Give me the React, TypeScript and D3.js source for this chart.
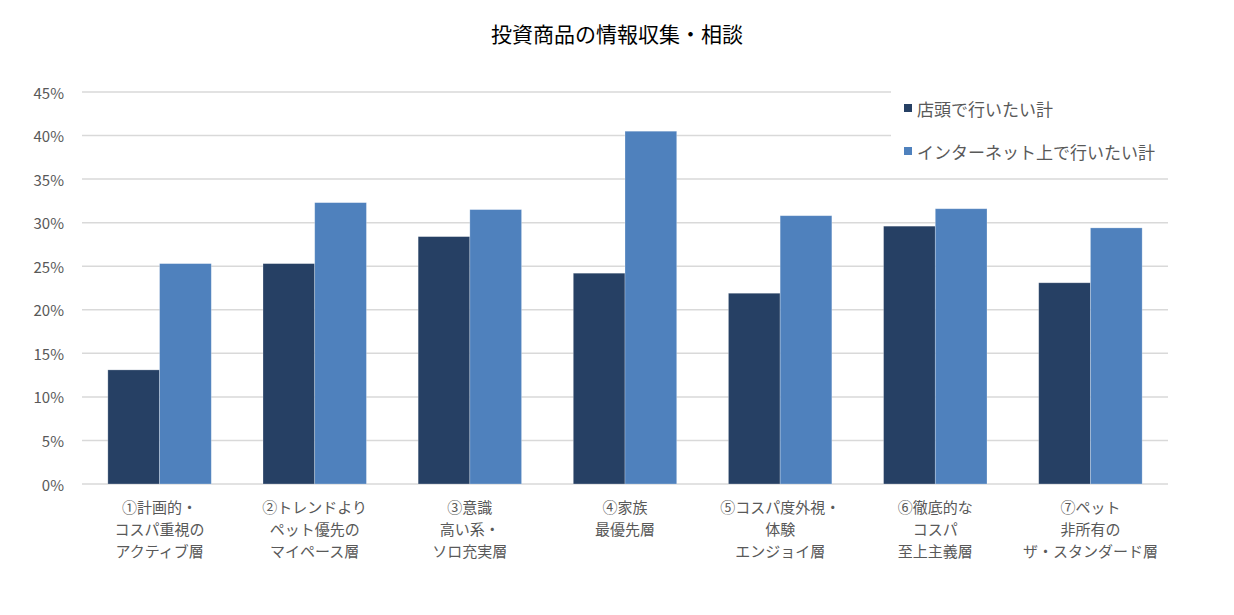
import * as d3 from "d3";

const categories = [
  ["①計画的・", "コスパ重視の", "アクティブ層"],
  ["②トレンドより", "ペット優先の", "マイペース層"],
  ["③意識", "高い系・", "ソロ充実層"],
  ["④家族", "最優先層"],
  ["⑤コスパ度外視・", "体験", "エンジョイ層"],
  ["⑥徹底的な", "コスパ", "至上主義層"],
  ["⑦ペット", "非所有の", "ザ・スタンダード層"],
];
const seriesNames = ["店頭で行いたい計", "インターネット上で行いたい計"];
const storeValues = [13.1, 25.3, 28.4, 24.2, 21.9, 29.6, 23.1];
const onlineValues = [25.3, 32.3, 31.5, 40.5, 30.8, 31.6, 29.4];
const yTicks = [0, 5, 10, 15, 20, 25, 30, 35, 40, 45];
const colors = ["#264064", "#4F81BD"];

const font = "'Noto Sans CJK JP', 'Noto Sans', sans-serif";

export default function App() {
  const width = 1234;
  const height = 615;
  const margin = { top: 92, right: 66, bottom: 131, left: 82 };
  const plotW = width - margin.left - margin.right;
  const plotH = height - margin.top - margin.bottom;

  const x = d3
    .scaleBand<number>()
    .domain(d3.range(categories.length))
    .range([0, plotW])
    .paddingInner(1 / 3)
    .paddingOuter(1 / 6);
  const y = d3.scaleLinear().domain([0, 45]).range([plotH, 0]);
  const bw = x.bandwidth() / 2;

  const series = [storeValues, onlineValues];

  return (
    <svg
      width={width}
      height={height}
      style={{ position: "absolute", left: 0, top: 0, background: "#fff" }}
      fontFamily={font}
    >
      <text
        x={617}
        y={33}
        textAnchor="middle"
        dominantBaseline="central"
        fontSize={21}
        fill="#000"
      >
        投資商品の情報収集・相談
      </text>
      <g transform={`translate(${margin.left},${margin.top})`}>
        {/* gridlines */}
        {yTicks.map((t) => (
          <line
            key={t}
            x1={0}
            x2={t >= 40 ? 809 : plotW}
            y1={y(t)}
            y2={y(t)}
            stroke="#d9d9d9"
            strokeWidth={1.5}
          />
        ))}
        {yTicks.map((t) => (
          <text
            key={"l" + t}
            x={-18}
            y={y(t)}
            textAnchor="end"
            dominantBaseline="central"
            fontSize={15}
            fill="#595959"
          >
            {t}%
          </text>
        ))}
        {/* bars */}
        {series.map((vals, si) =>
          vals.map((v, i) => (
            <rect
              key={si + "-" + i}
              x={(x(i) ?? 0) + si * bw}
              y={y(v)}
              width={bw}
              height={plotH - y(v)}
              fill={colors[si]}
              stroke="#ffffff"
              strokeOpacity={0.35}
              strokeWidth={0.75}
            />
          )),
        )}
        {/* category labels */}
        {categories.map((lines, i) => (
          <text
            key={"c" + i}
            x={(x(i) ?? 0) + x.bandwidth() / 2}
            y={plotH + 22}
            textAnchor="middle"
            fontSize={15}
            fill="#595959"
          >
            {lines.map((ln, j) => (
              <tspan
                key={j}
                x={(x(i) ?? 0) + x.bandwidth() / 2}
                y={plotH + 22 + j * 22}
                dominantBaseline="central"
              >
                {ln}
              </tspan>
            ))}
          </text>
        ))}
      </g>
      {/* legend */}
      {seriesNames.map((name, i) => (
        <g key={name} transform={`translate(904,${108 + i * 43})`}>
          <rect x={0} y={-4} width={8} height={8} fill={colors[i]} />
          <text
            x={13}
            y={0}
            dominantBaseline="central"
            fontSize={17}
            fill="#595959"
          >
            {name}
          </text>
        </g>
      ))}
    </svg>
  );
}
